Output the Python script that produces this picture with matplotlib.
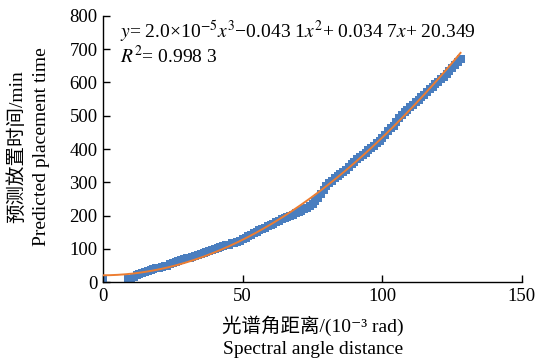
import numpy as np
import matplotlib
matplotlib.use("Agg")
import matplotlib.pyplot as plt

plt.rcParams["font.family"] = ["Liberation Serif", "Noto Sans CJK SC", "DejaVu Serif"]
plt.rcParams["mathtext.fontset"] = "stix"

# scatter data (10^-3 rad, min)
angle = [0, 9, 10, 11, 12, 13, 14, 15, 16, 17, 18, 19, 20, 21, 22, 23, 24, 25,
         26, 27, 28, 29, 30, 31, 32, 33, 34, 35, 36, 37, 38, 39, 40, 41, 42, 43,
         44, 45, 46, 47, 48, 49, 50, 51, 52, 53, 54, 55, 56, 57, 58, 59, 60, 61,
         62, 63, 64, 65, 66, 67, 68, 69, 70, 71, 72, 73, 74, 75, 76, 77, 78, 79,
         80, 81, 82, 83, 84, 85, 86, 87, 88, 89, 90, 91, 92, 93, 94, 95, 96, 97,
         98, 99, 100, 101, 102, 103, 104, 105, 106, 107, 108, 109, 110, 111, 112,
         113, 114, 115, 116, 117, 118, 119, 120, 121, 122, 123, 124, 125, 126,
         127, 128]
time_min = [5, 8, 10, 15, 22, 25, 27, 30, 32, 35, 38, 42, 43, 45, 47, 49, 53, 56,
            59, 62, 65, 68, 71, 73, 76, 79, 81, 84, 87, 90, 93, 96, 99, 101, 104, 107,
            110, 112, 117, 116, 120, 124, 129, 133, 138, 142, 146, 150, 155, 160, 163, 168, 172, 176,
            180, 184, 189, 192, 196, 200, 203, 207, 211, 215, 219, 224, 230, 236, 244, 254, 266, 278,
            288, 297, 305, 312, 318, 324, 331, 338, 345, 354, 362, 369, 375, 381, 387, 396, 404, 410,
            418, 425, 433, 442, 455, 462, 470, 480, 492, 502, 510, 518, 525, 532, 540,
            547, 555, 562, 570, 579, 586, 594, 602, 610, 618, 627, 636, 645, 653,
            662, 670]

# cubic trend line coefficients (highest power first)
fit_coef = [-2.0e-5, 0.0431, 0.0347, 20.349]

fig = plt.figure(figsize=(5.37, 3.63), dpi=100)
ax = fig.add_axes([0.192, 0.223, 0.780, 0.733])

ax.scatter(angle, time_min, marker="s", s=32, color="#4a7ebf", linewidths=0, zorder=2)
xs = np.linspace(0, 128, 200)
ax.plot(xs, np.polyval(fit_coef, xs), color="#ed7d31", lw=1.4, zorder=3)

ax.set_xlim(0, 150)
ax.set_ylim(0, 800)
ax.set_xticks([0, 50, 100, 150])
ax.set_yticks(range(0, 801, 100))
ax.tick_params(direction="in", length=5, width=1, labelsize=13.5, colors="black", pad=4)
ax.spines["top"].set_visible(False)
ax.spines["right"].set_visible(False)
for s in ("left", "bottom"):
    ax.spines[s].set_linewidth(1)

ax.text(0.04, 0.99, "$y$= 2.0×10$^{-5}$$x^3$−0.043 1$x^2$+ 0.034 7$x$+ 20.349",
        transform=ax.transAxes, fontsize=14, va="top", ha="left")
ax.text(0.04, 0.89, "$R^2$= 0.998 3",
        transform=ax.transAxes, fontsize=14, va="top", ha="left")

fig.text(0.583, 0.102, "光谱角距离/(10⁻³ rad)", ha="center", va="center", fontsize=14)
fig.text(0.583, 0.036, "Spectral angle distance", ha="center", va="center", fontsize=14)
fig.text(0.032, 0.595, "预测放置时间/min", ha="center", va="center", rotation=90, fontsize=14)
fig.text(0.078, 0.595, "Predicted placement time", ha="center", va="center", rotation=90, fontsize=14)

fig.savefig("out.png", dpi=100)
